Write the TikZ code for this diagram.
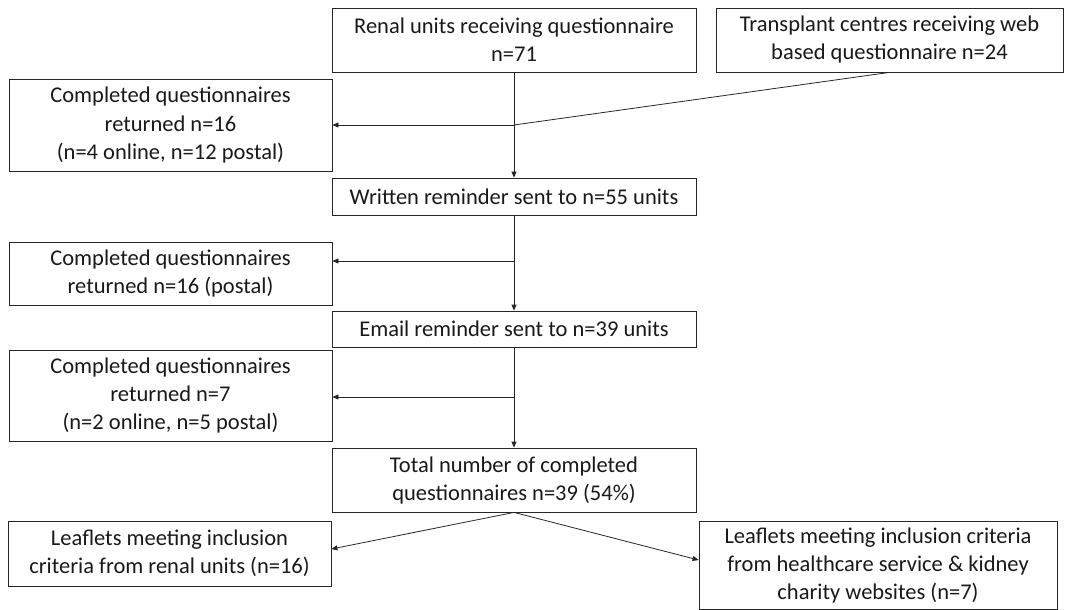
\documentclass[tikz,border=0pt]{standalone}
\usepackage{fontspec}
\setmainfont{Carlito}
\usetikzlibrary{arrows.meta}
\begin{document}
\begin{tikzpicture}[x=1pt,y=-1pt,
  box/.style={draw=black!85, line width=0.8pt, align=center, inner sep=0pt,
    font=\fontsize{22.5}{28}\selectfont, text=black!90},
  conn/.style={draw=black!85, line width=0.8pt},
  arr/.style={conn, -{Triangle[length=6pt,width=5pt]}}]
\useasboundingbox (0,0) rectangle (1065,610);
\node[box, minimum width=364, minimum height=64] (renal) at (514,40) {Renal units receiving questionnaire\\n=71};
\node[box, minimum width=347, minimum height=64] (trans) at (889.5,40) {Transplant centres receiving web\\based questionnaire n=24};
\node[box, minimum width=323, minimum height=92] (ret1) at (170.5,125) {Completed questionnaires\\returned n=16\\(n=4 online, n=12 postal)};
\node[box, minimum width=364, minimum height=37] (written) at (514,196.5) {Written reminder sent to n=55 units};
\node[box, minimum width=323, minimum height=63] (ret2) at (170.5,273.5) {Completed questionnaires\\returned n=16 (postal)};
\node[box, minimum width=364, minimum height=36] (email) at (514,329) {Email reminder sent to n=39 units};
\node[box, minimum width=323, minimum height=91] (ret3) at (170.5,395.5) {Completed questionnaires\\returned n=7\\(n=2 online, n=5 postal)};
\node[box, minimum width=364, minimum height=64] (total) at (514,480) {Total number of completed\\questionnaires n=39 (54\%)};
\node[box, minimum width=323, minimum height=65] (leafL) at (169.5,553.5) {Leaflets meeting inclusion\\criteria from renal units (n=16)};
\node[box, minimum width=358, minimum height=88] (leafR) at (878,565) {Leaflets meeting inclusion criteria\\from healthcare service \& kidney\\charity websites (n=7)};
\coordinate (j1) at (514,125);
\coordinate (j2) at (514,261);
\coordinate (j3) at (514,397);
\draw[arr] (renal.south) -- (written.north);
\draw[conn] (trans.south) -- (j1);
\draw[arr] (j1) -- (ret1.east);
\draw[arr] (written.south) -- (email.north);
\draw[arr] (j2) -- (ret2.east |- j2);
\draw[arr] (email.south) -- (total.north);
\draw[arr] (j3) -- (ret3.east |- j3);
\draw[arr] (total.south) -- (leafL.east |- 0,549);
\draw[arr] (total.south) -- (leafR.west |- 0,560);
\end{tikzpicture}
\end{document}
